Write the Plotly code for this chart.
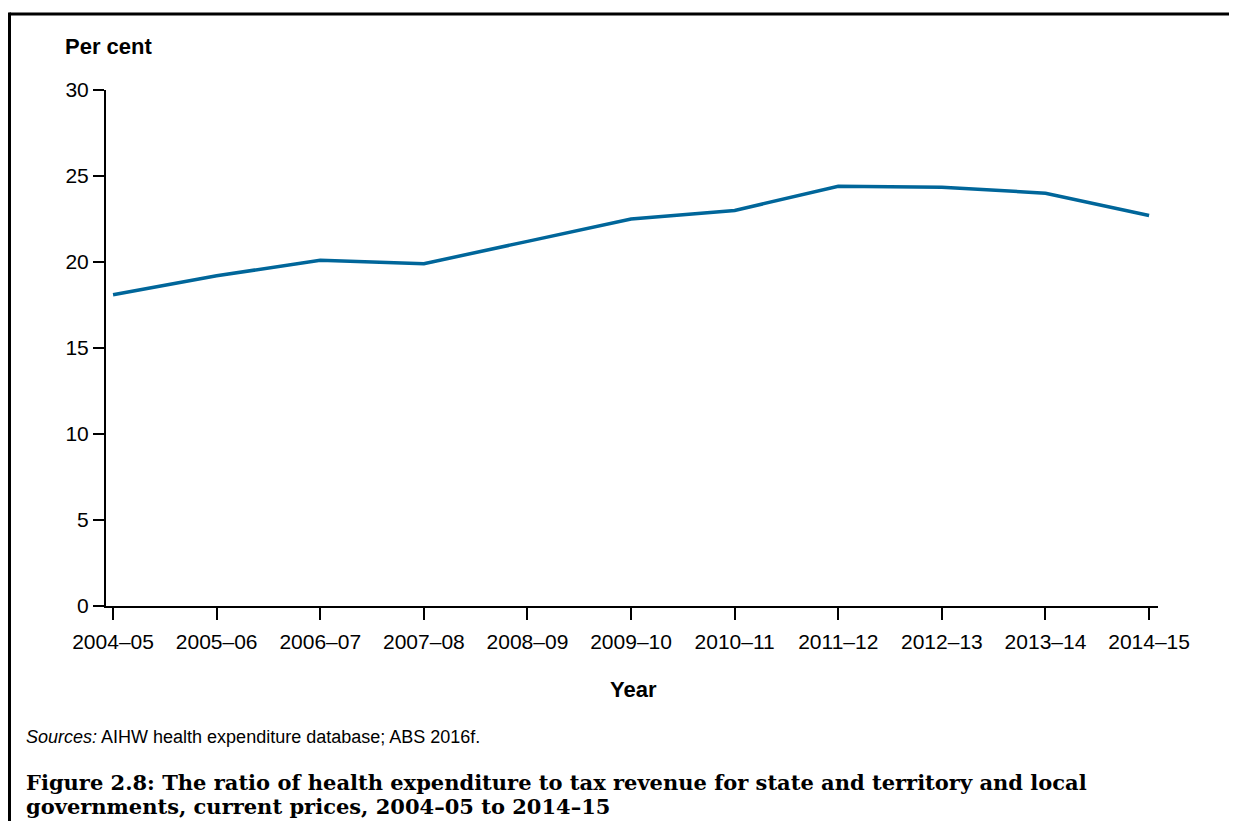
import plotly.graph_objects as go

years = ["2004–05", "2005–06", "2006–07", "2007–08", "2008–09", "2009–10",
         "2010–11", "2011–12", "2012–13", "2013–14", "2014–15"]
ratio = [18.1, 19.2, 20.1, 19.9, 21.2, 22.5, 23.0, 24.4, 24.35, 24.0, 22.7]
y_ticks = [0, 5, 10, 15, 20, 25, 30]

# page has an 8px body margin, so the figure starts at screen (8, 8)
OFF = 8
W, H = 1237 - 2 * OFF, 829 - 2 * OFF
L, R, T, B = 106, 1158, 90, 606  # plot area in screen pixels


def px(x):
    return (x - L) / (R - L)


def py(y):
    return (B - y) / (B - T)


SANS = "Liberation Sans, Arial, sans-serif"
SERIF = "DejaVu Serif, serif"

fig = go.Figure()
fig.add_trace(go.Scatter(
    x=years, y=ratio, mode="lines",
    line=dict(color="#00669A", width=3.5),
    hoverinfo="skip", showlegend=False,
))

border = dict(color="black", width=3)
fig.update_layout(
    width=W, height=H,
    margin=dict(l=L - OFF, r=W + OFF - R, t=T - OFF, b=H + OFF - B),
    paper_bgcolor="white", plot_bgcolor="white",
    font=dict(family=SANS, color="black", size=21),
    xaxis=dict(
        type="category", range=[-0.068, 10.086],
        showline=True, linecolor="black", linewidth=2,
        ticks="outside", ticklen=12, tickwidth=2, tickcolor="black",
        showgrid=False, zeroline=False, ticklabelstandoff=4,
        tickfont=dict(size=21),
    ),
    yaxis=dict(
        range=[0, 30], tickvals=y_ticks,
        showline=True, linecolor="black", linewidth=2,
        ticks="outside", ticklen=11, tickwidth=2, tickcolor="black",
        showgrid=False, zeroline=False,
        tickfont=dict(size=21),
    ),
    shapes=[
        dict(type="line", xref="paper", yref="paper",
             x0=px(9.5), x1=px(1300), y0=py(14), y1=py(14), line=border),
        dict(type="line", xref="paper", yref="paper",
             x0=px(9.5), x1=px(9.5), y0=py(12.5), y1=py(900), line=border),
    ],
)

fig.add_annotation(x=px(63), y=py(46), xref="paper", yref="paper",
                   text="<b>Per cent</b>", showarrow=False,
                   xanchor="left", yanchor="middle",
                   font=dict(family=SANS, size=22))
fig.add_annotation(x=px(633), y=py(689), xref="paper", yref="paper",
                   text="<b>Year</b>", showarrow=False,
                   xanchor="center", yanchor="middle",
                   font=dict(family=SANS, size=22))
fig.add_annotation(x=px(24), y=py(737), xref="paper", yref="paper",
                   text="<i>Sources:</i> AIHW health expenditure database; ABS 2016f.",
                   showarrow=False, xanchor="left", yanchor="middle",
                   font=dict(family=SANS, size=18))
fig.add_annotation(x=px(24), y=py(782), xref="paper", yref="paper",
                   text="<b>Figure 2.8: The ratio of health expenditure to tax revenue for state and territory and local</b>",
                   showarrow=False, xanchor="left", yanchor="middle",
                   font=dict(family=SERIF, size=21))
fig.add_annotation(x=px(24), y=py(806), xref="paper", yref="paper",
                   text="<b>governments, current prices, 2004–05 to 2014–15</b>",
                   showarrow=False, xanchor="left", yanchor="middle",
                   font=dict(family=SERIF, size=21))

fig.write_html("out.html")
